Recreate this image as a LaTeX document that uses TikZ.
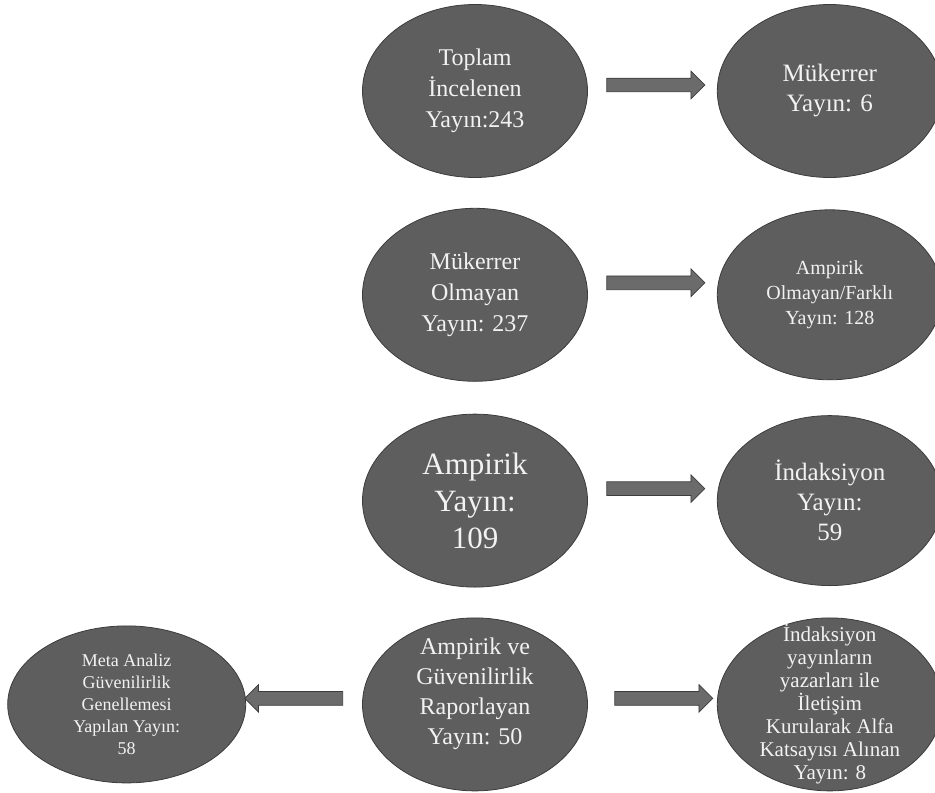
\documentclass[tikz,border=0pt]{standalone}
\usepackage{fontspec}
\setmainfont{Liberation Serif}
\usetikzlibrary{shapes.geometric,shapes.arrows,positioning}
\definecolor{ovalgray}{HTML}{5E5E5E}
\definecolor{ovalline}{HTML}{3C3C3C}
\definecolor{arrowgray}{HTML}{6B6B6B}
\definecolor{ovaltext}{HTML}{F2F2F2}

\begin{document}
\begin{tikzpicture}[x=1pt,y=1pt,
  oval/.style={draw=ovalline, fill=ovalgray, shape=ellipse, line width=0.8pt, inner sep=-40pt, minimum width=225pt, minimum height=173pt, text=ovaltext, align=center},
  blockarrow/.style={single arrow, draw=ovalline, fill=arrowgray, line width=0.7pt, inner xsep=0pt, inner ysep=6.5pt, minimum height=98pt, single arrow head extend=7pt}]
\useasboundingbox (0,0) rectangle (935,-793);
% centre column
\node[oval, font=\fontsize{24}{31}\selectfont] (total) at (475,-91) {Toplam\\İncelenen\\Yayın:243};
\node[oval, below=30pt of total, font=\fontsize{24}{31}\selectfont] (nodup) {Mükerrer\\Olmayan\\Yayın: 237};
\node[oval, below=32pt of nodup, font=\fontsize{31}{37}\selectfont] (emp) {Ampirik\\Yayın:\\109};
\node[oval, below=30pt of emp, text depth=26pt, font=\fontsize{24}{30}\selectfont] (rel) {Ampirik ve\\Güvenilirlik\\Raporlayan\\Yayın: 50};
% right column
\node[oval, right=129pt of total, font=\fontsize{25}{30}\selectfont] (dup) {Mükerrer\\Yayın: 6};
\node[oval, right=129pt of nodup, minimum height=170pt, font=\fontsize{20}{25}\selectfont] (nonemp) {Ampirik\\Olmayan/Farklı\\Yayın: 128};
\node[oval, right=129pt of emp, minimum height=170pt, font=\fontsize{25}{30}\selectfont] (ind) {İndaksiyon\\Yayın:\\59};
\node[oval, right=129pt of rel, font=\fontsize{21}{23}\selectfont] (alfa) {İndaksiyon\\yayınların\\yazarları ile\\İletişim\\Kurularak Alfa\\Katsayısı Alınan\\Yayın: 8};
% left
\node[oval, left=116pt of rel, minimum width=238pt, minimum height=157pt, font=\fontsize{18}{22}\selectfont] (meta) {Meta Analiz\\Güvenilirlik\\Genellemesi\\Yapılan Yayın:\\58};
% arrows
\path (total) -- (dup) node[blockarrow, midway, yshift=6pt] {};
\path (nodup) -- (nonemp) node[blockarrow, midway, yshift=12pt] {};
\path (emp) -- (ind) node[blockarrow, midway, yshift=12pt] {};
\path (rel) -- (alfa) node[blockarrow, midway, xshift=8pt, yshift=6pt] {};
\path (rel) -- (meta) node[blockarrow, midway, xshift=-7pt, yshift=6pt, shape border rotate=180] {};
\end{tikzpicture}
\end{document}
